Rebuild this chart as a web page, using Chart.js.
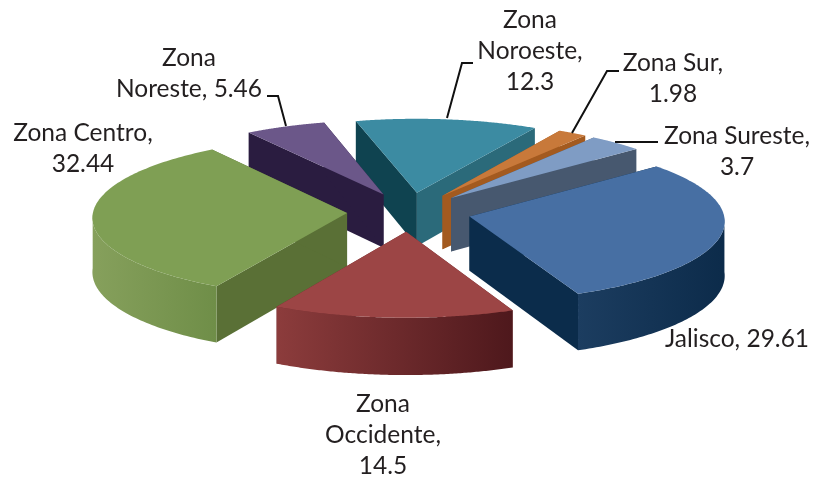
<!DOCTYPE html>
<html><head><meta charset="utf-8">
<style>html,body{margin:0;padding:0;background:#fff}canvas{display:block}</style>
<script src="https://cdn.jsdelivr.net/npm/chart.js@4"></script>
</head><body><canvas id="c" width="813" height="477"></canvas>
<script>
const categories = ['Jalisco','Zona Occidente','Zona Centro','Zona Noreste','Zona Noroeste','Zona Sur','Zona Sureste'];
const values = [29.61,14.5,32.44,5.46,12.3,1.98,3.7];
const topColors = ['#476fa3','#9c4545','#7f9f54','#6b5789','#3c8ba2','#c8793a','#7f9cc4'];
const radialColors = [['#0b2c4b','#0b2c4b'],['#6a2a2c','#6a2a2c'],['#5a7036','#5a7036'],['#2a1c40','#2a1c40'],['#0f4350','#2b6a7a'],['#a35a1f','#a35a1f'],['#47586f','#47586f']];
const outerColors = [['#1c3d60','#0c2b4a'],['#8c3c3c','#4e181c'],['#86a05c','#6f8e48'],['#2a1c40','#2a1c40'],['#2b6a7a','#2b6a7a'],['#a35a1f','#a35a1f'],['#47586f','#47586f']];
const labelLines = [
  {lines:['Jalisco, 29.61'],x:737,y:339},
  {lines:['Zona','Occidente,','14.5'],x:383,y:404},
  {lines:['Zona Centro,','32.44'],x:83,y:133},
  {lines:['Zona','Noreste, 5.46'],x:189,y:58},
  {lines:['Zona','Noroeste,','12.3'],x:530,y:20},
  {lines:['Zona Sur,','1.98'],x:673,y:63},
  {lines:['Zona Sureste,','3.7'],x:737,y:136}
];
const leaders = [
  [[447,118],[462,63],[473,63]],
  [[572,133],[607,71],[619,71]],
  [[615,142],[658,142]],
  [[286,126],[278,96],[267,96]]
];
const EXPLODE = 62, SQUASH = 0.315, PERSP_Y = 0.05, PERSP_X = 0.05, DEPTH = 54;

const pie3d = {
  id:'pie3d',
  beforeDatasetsDraw(chart){
    const ctx = chart.ctx, meta = chart.getDatasetMeta(0), arcs = meta.data;
    const cx = arcs[0].x, cy = arcs[0].y, R = arcs[0].outerRadius;
    const proj = (u,v,d)=>{
      const s = 1 + PERSP_X*v/R;
      return [cx + u*s, cy + SQUASH*v*(1+PERSP_Y*v/R) + d*s];
    };
    const poly = (pts,fill)=>{
      ctx.beginPath();
      pts.forEach((p,i)=> i?ctx.lineTo(p[0],p[1]):ctx.moveTo(p[0],p[1]));
      ctx.closePath(); ctx.fillStyle = fill; ctx.fill();
    };
    const order = arcs.map((a,i)=>i).sort((a,b)=>{
      const m = i=>Math.sin((arcs[i].startAngle+arcs[i].endAngle)/2);
      return m(a)-m(b);
    });
    for (const i of order){
      const a = arcs[i], s = a.startAngle, e = a.endAngle, mid=(s+e)/2;
      const ox = Math.cos(mid)*EXPLODE, oy = Math.sin(mid)*EXPLODE;
      const P = (ang,r,d)=>proj(ox+Math.cos(ang)*r, oy+Math.sin(ang)*r, d);
      const apex = P(0,0,0), apexD = P(0,0,DEPTH);
      const sTop=P(s,R,0), sBot=P(s,R,DEPTH), eTop=P(e,R,0), eBot=P(e,R,DEPTH);
      const walls=[[sTop,sBot,radialColors[i][0]],[eTop,eBot,radialColors[i][1]]];
      for(const w of walls) poly([apex,w[0],w[1],apexD],w[2]);
      const up=[],low=[]; const n=120;
      for(let k=0;k<=n;k++){
        const t=s+(e-s)*k/n;
        if(Math.sin(t)>=0){up.push(P(t,R,0));low.push(P(t,R,DEPTH));}
      }
      if(up.length>1){
        const xs=up.map(p=>p[0]);
        const x0=Math.min(...xs),x1=Math.max(...xs);
        const g=ctx.createLinearGradient(x0,0,x1,0);
        g.addColorStop(0,outerColors[i][0]);
        g.addColorStop(1,outerColors[i][1]);
        poly(up.concat(low.reverse()),g);
      }
      const top=[apex];
      for(let k=0;k<=n;k++) top.push(P(s+(e-s)*k/n,R,0));
      poly(top,topColors[i]);
    }
    ctx.strokeStyle='#111'; ctx.lineWidth=2;
    for(const l of leaders){
      ctx.beginPath();
      l.forEach((p,i)=> i?ctx.lineTo(p[0],p[1]):ctx.moveTo(p[0],p[1]));
      ctx.stroke();
    }
    ctx.fillStyle='#231f20'; ctx.font='24.5px Lato'; ctx.textAlign='center'; ctx.textBaseline='middle';
    for(const l of labelLines) l.lines.forEach((t,j)=>ctx.fillText(t,l.x,l.y+j*31));
    return false;
  }
};

new Chart(document.getElementById('c'),{
  type:'pie',
  data:{labels:categories,datasets:[{data:values,backgroundColor:topColors,borderWidth:0}]},
  options:{
    responsive:false,animation:false,rotation:50,radius:254,
    layout:{padding:{left:5,bottom:53}},
    plugins:{legend:{display:false},tooltip:{enabled:false}}
  },
  plugins:[pie3d]
});
</script></body></html>
